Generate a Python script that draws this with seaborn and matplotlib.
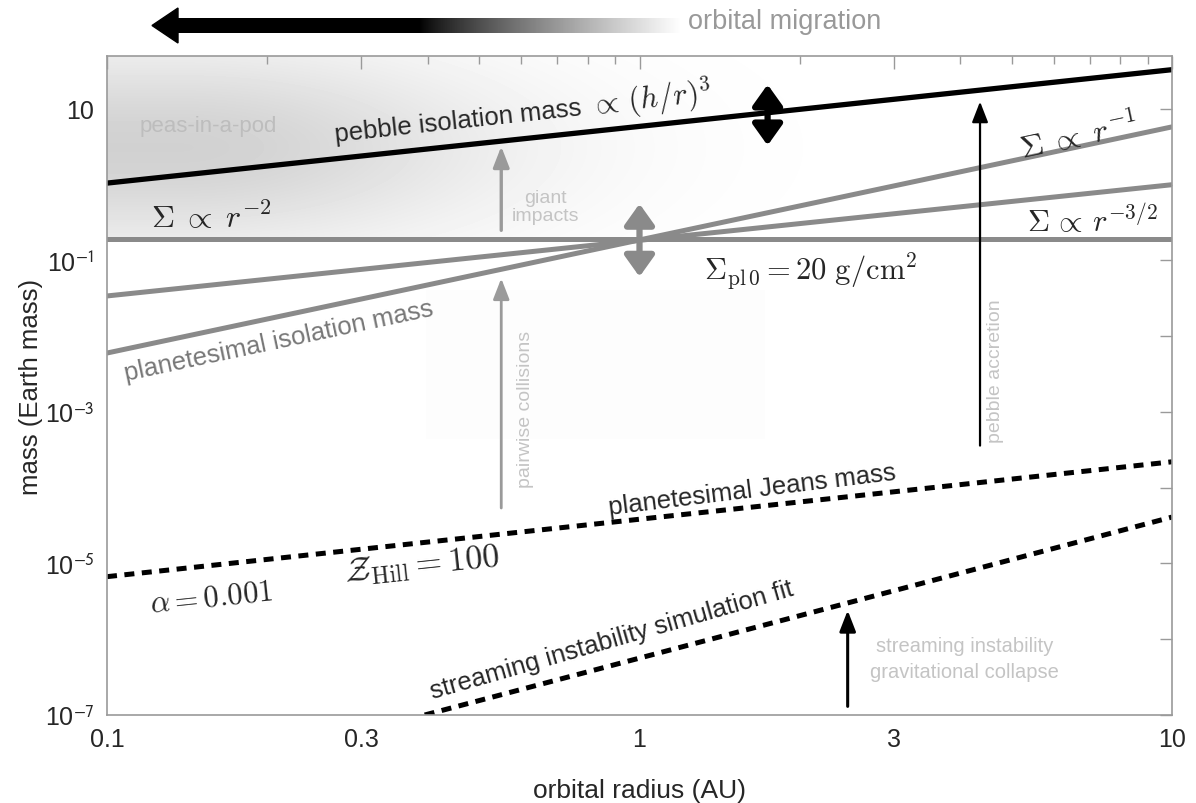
import matplotlib
matplotlib.use("Agg")
import matplotlib.pyplot as plt
import numpy as np
import seaborn as sns
from matplotlib.patches import Polygon
from matplotlib.ticker import FixedLocator, NullFormatter

sns.set_theme(style="white")
plt.rcParams["font.family"] = ["Liberation Sans", "DejaVu Sans"]
plt.rcParams["mathtext.fontset"] = "cm"

# ---- data (log-log straight lines: end points) ----
r_ends = [0.1, 10.0]
m_pebble_iso = [1.05, 33.0]        # pebble isolation mass ∝ (h/r)^3
m_sigma_r2 = [0.19, 0.19]          # planetesimal isolation, Σ ∝ r^-2
m_sigma_r15 = [0.034, 1.0]         # Σ ∝ r^-3/2
m_sigma_r1 = [0.006, 5.8]          # Σ ∝ r^-1
m_jeans = [6.7e-6, 2.2e-4]         # planetesimal Jeans mass
r_si = [0.395, 10.0]
m_si = [1.0e-7, 4.1e-5]            # streaming instability simulation fit

# process arrows: (r, m_tail, m_head)
giant_impacts = (0.55, 0.25, 3.2)
pairwise = (0.55, 5.4e-5, 0.058)
pebble_acc = (4.36, 3.6e-4, 12.5)
si_collapse = (2.46, 1.3e-7, 2.4e-6)
# double arrows: (r, m_low, m_high)
peb_range = (1.74, 3.3, 21.0)
pl_range = (1.0, 0.061, 0.56)

x_ticks = [0.1, 0.3, 1, 3, 10]
x_labels = ["0.1", "0.3", "1", "3", "10"]
y_exps = list(range(-7, 2))

GRAY = "#8a8a8a"
LIGHT = "#c4c4c4"

W, H = 1196, 804
fig = plt.figure(figsize=(W / 100, H / 100), dpi=100)
ax_l, ax_r, ax_t, ax_b = 107, 1172, 57, 716
pos = [ax_l / W, (H - ax_b) / H, (ax_r - ax_l) / W, (ax_b - ax_t) / H]

# background shading (peas-in-a-pod region), in pixel space of the axes
bg = fig.add_axes(pos, zorder=0)
cut = 241  # px row of the Σ ∝ r^-2 line
xs = np.arange(ax_l, ax_r)
ys = np.arange(ax_t, ax_b)
X, Y = np.meshgrid(xs, ys)
fx = np.exp(-np.clip(X - 180, 0, None) ** 2 / (2 * 225.0 ** 2))
fy = np.exp(-(Y - 148.0) ** 2 / (2 * 70.0 ** 2))
dark = 0.18 * fx * fy
dark[Y > cut] = 0
# faint box behind the pairwise-collision arrow
box = (X > 425) & (X < 765) & (Y > 290) & (Y < 440)
dark[box] = np.maximum(dark[box], 0.008)
bg.imshow(1 - dark, cmap="gray", vmin=0, vmax=1, extent=[0, 1, 0, 1],
          aspect="auto", interpolation="bilinear")
bg.axis("off")

ax = fig.add_axes(pos, zorder=1)
ax.set_facecolor("none")
ax.set_xscale("log")
ax.set_yscale("log")

sns.lineplot(x=r_ends, y=m_pebble_iso, ax=ax, color="black", lw=3.8)
sns.lineplot(x=r_ends, y=m_sigma_r2, ax=ax, color=GRAY, lw=3.6)
sns.lineplot(x=r_ends, y=m_sigma_r15, ax=ax, color=GRAY, lw=3.6)
sns.lineplot(x=r_ends, y=m_sigma_r1, ax=ax, color=GRAY, lw=3.6)
sns.lineplot(x=r_ends, y=m_jeans, ax=ax, color="black", lw=3.6,
             linestyle=(0, (2.0, 1.5)))
sns.lineplot(x=r_si, y=m_si, ax=ax, color="black", lw=3.6,
             linestyle=(0, (2.0, 1.5)))


def arrow(spec, color, lw, style="-|>", hl=0.9, hw=0.35, ms=14):
    r, m0, m1 = spec
    ax.annotate("", xy=(r, m1), xytext=(r, m0),
                arrowprops=dict(arrowstyle=f"{style},head_length={hl},head_width={hw}",
                                color=color, lw=lw, mutation_scale=ms,
                                shrinkA=0, shrinkB=0), zorder=4)


arrow(giant_impacts, "#9a9a9a", 2.4)
arrow(pairwise, "#9a9a9a", 2.0)
arrow(pebble_acc, "black", 1.6)
arrow(si_collapse, "black", 2.2)
arrow(peb_range, "black", 4.5, style="<|-|>", hl=0.7, hw=0.5, ms=18)
arrow(pl_range, GRAY, 4.5, style="<|-|>", hl=0.7, hw=0.5, ms=18)

# labels
SANS = 18.5
MATH = 23
ax.text(0.155, 6.0, "peas-in-a-pod", color="#bdbdbd", fontsize=16,
        ha="center", va="center")

# pebble isolation label: sans words + larger math part following along the line
ang = 6.2
peb = ax.text(0.269, 3.8, "pebble isolation mass", fontsize=SANS,
              ha="left", va="baseline", rotation_mode="anchor")
fig.canvas.draw()
wpx = peb.get_window_extent().width + 8
peb.set_rotation(ang)
ax.annotate(r"$\propto\,(h/r)^3$", xy=(0.269, 3.8), xycoords="data",
            xytext=(wpx * np.cos(np.radians(ang)), wpx * np.sin(np.radians(ang))),
            textcoords="offset pixels", fontsize=22, rotation=ang,
            rotation_mode="anchor", ha="left", va="baseline")

ax.text(0.157, 0.37, r"$\Sigma\;\propto\;r^{-2}$", fontsize=MATH,
        ha="center", va="center")
ax.text(0.665, 0.52, "giant\nimpacts", color=LIGHT, fontsize=14,
        ha="center", va="center", linespacing=1.1)
ax.text(6.7, 4.3, r"$\Sigma\;\propto\;r^{-1}$", fontsize=MATH, rotation=12,
        rotation_mode="anchor", ha="center", va="center")
ax.text(7.1, 0.33, r"$\Sigma\,\propto\,r^{-3/2}$", fontsize=22,
        ha="center", va="center")
ax.text(2.1, 0.073, r"$\Sigma_{\rm pl\,0} = 20\ {\rm g/cm^2}$", fontsize=22,
        ha="center", va="center")
ax.text(0.21, 0.0087, "planetesimal isolation mass", color="#777777",
        fontsize=SANS, rotation=12, rotation_mode="anchor",
        ha="center", va="center")
ax.text(0.61, 1.1e-3, "pairwise collisions", color=LIGHT, fontsize=14,
        rotation=90, ha="center", va="center")
ax.text(4.67, 3.6e-3, "pebble accretion", color=LIGHT, fontsize=14,
        rotation=90, ha="center", va="center")
ax.text(1.63, 9.6e-5, "planetesimal Jeans mass", fontsize=SANS, rotation=7,
        rotation_mode="anchor", ha="center", va="center")
ax.text(0.157, 3.6e-6, r"$\alpha = 0.001$", fontsize=22, rotation=6,
        rotation_mode="anchor", ha="center", va="center")
ax.text(0.39, 9.8e-6, r"$\mathcal{Z}_{\rm Hill} = 100$", fontsize=24.5,
        rotation=6, rotation_mode="anchor", ha="center", va="center")
ax.text(0.887, 1.0e-6, "streaming instability simulation fit", fontsize=SANS,
        rotation=16, rotation_mode="anchor", ha="center", va="center")
ax.text(4.08, 5.6e-7, "streaming instability\ngravitational collapse",
        color=LIGHT, fontsize=14.5, ha="center", va="center", linespacing=1.5)

# axes styling
ax.set_xlim(0.1, 10)
ax.set_ylim(1e-7, 50)
ax.set_xticks(x_ticks, labels=x_labels)
ax.xaxis.set_minor_locator(FixedLocator(
    [v * d for d in (0.1, 1) for v in range(2, 10) if v != 3]))
ax.xaxis.set_minor_formatter(NullFormatter())
ax.set_yticks([10.0 ** k for k in y_exps],
              labels=[("10" if k == 1 else f"10$^{{{k}}}$") if k % 2 else ""
                      for k in y_exps])
ax.yaxis.set_minor_locator(FixedLocator([]))
for t in ax.get_yticklabels():
    t.set_math_fontfamily("stixsans")
ax.tick_params(which="both", direction="in", top=True, right=True,
               color="#9a9a9a", labelsize=18, pad=9)
ax.tick_params(which="major", length=9, width=1)
ax.tick_params(which="minor", length=6, width=1)
for s in ax.spines.values():
    s.set_color("#9a9a9a")
    s.set_linewidth(1.2)
ax.set_xlabel("orbital radius (AU)", fontsize=19, labelpad=19)
ax.set_ylabel("mass (Earth mass)", fontsize=18.5)
ax.yaxis.set_label_coords(-0.06, 0.5)

# orbital migration arrow (top, figure pixels)
sx0, sx1, sy0, sy1 = 177, 682, 19, 34
shaft = fig.add_axes([sx0 / W, (H - sy1) / H, (sx1 - sx0) / W, (sy1 - sy0) / H])
g = np.clip((np.linspace(0, 1, 400) - 0.48) / 0.52, 0, 1) ** 0.8
shaft.imshow(g[None, :], cmap="gray", vmin=0, vmax=1, aspect="auto",
             extent=[0, 1, 0, 1], interpolation="bilinear")
shaft.axis("off")
head = Polygon([(152 / W, (H - 26.5) / H), (178 / W, (H - 9) / H),
                (178 / W, (H - 44) / H)], closed=True, color="black",
               transform=fig.transFigure)
fig.patches.append(head)
fig.text(688 / W, (H - 22) / H, "orbital migration", color="#999999",
         fontsize=19.5, ha="left", va="center")

fig.savefig("out.png", dpi=100)
